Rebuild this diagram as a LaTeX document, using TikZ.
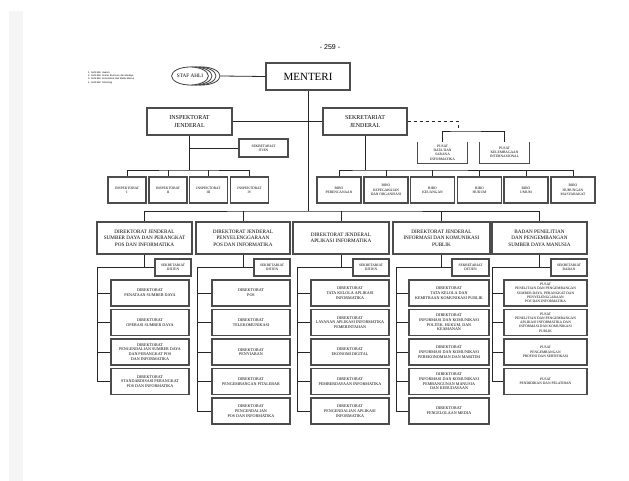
\documentclass[tikz,border=0pt]{standalone}
\usepackage{fontspec}
\setmainfont{Liberation Serif}
\setsansfont{Liberation Sans}
\usetikzlibrary{shapes.geometric}

\newcommand\dirfont{\fontsize{4.1}{4.7}\selectfont}
\newcommand\smallfont{\fontsize{3.6}{4.3}\selectfont}
\newcommand\dgfont{\fontsize{5.2}{6.4}\selectfont}

\begin{document}
\begin{tikzpicture}[x=1pt,y=-1pt,
    unit/.style={draw=black!70,line width=1.1pt,fill=white,inner sep=0pt,align=center},
    dirbox/.style={unit,font=\dirfont,minimum height=26},
    dgbox/.style={unit,font=\dgfont,minimum height=32},
    sekbox/.style={unit,font=\smallfont,minimum width=36,minimum height=17},
    birobox/.style={unit,font=\smallfont,minimum width=44,minimum height=26},
    line/.style={draw=black!85,line width=0.8pt}]
\useasboundingbox (0,0) rectangle (629,481);
\fill[black!4] (9,11) rectangle (23,481);

\node (page) at (330,47) {\sffamily\fontsize{7}{8}\selectfont - 259 -};
\node (list) at (88,77.5) [anchor=west,align=left,inner sep=0pt,font=\sffamily\fontsize{2.4}{3.3}\selectfont]
    {1. Sahli Bid. Hukum\\2. Sahli Bid. Sosial, Ekonomi, dan Budaya\\3. Sahli Bid. Komunikasi dan Media Massa\\4. Sahli Bid. Teknologi};

% staf ahli
\begin{scope}[every node/.style={ellipse,draw=black!75,line width=0.8pt,fill=white,
    minimum width=36,minimum height=18,inner sep=0pt}]
    \node (sa4) at (202,76) {};
    \node (sa3) at (198,76) {};
    \node (sa2) at (194,76) {};
    \node (sa1) at (190,76) [font=\fontsize{5.2}{6}\selectfont] {STAF AHLI};
\end{scope}

\node (menteri) at (308,76.5) [unit,minimum width=84,minimum height=27,font=\fontsize{11}{12}\selectfont] {MENTERI};
\node (itjen) at (189.5,121.5) [unit,minimum width=85,minimum height=27,font=\fontsize{6}{7.5}\selectfont] {INSPEKTORAT\\JENDERAL};
\node (sekjen) at (365,121.5) [unit,minimum width=84,minimum height=27,font=\fontsize{6}{7.5}\selectfont] {SEKRETARIAT\\JENDERAL};
\node (sitjen) at (263.5,148) [sekbox,minimum width=49,minimum height=18] {SEKRETARIAT\\ITJEN};

\path[line] (sa4.east) -- (menteri.west);
\path[line] (itjen.east) -- (sekjen.west);

% inspektorat
\foreach \txt/\x [count=\i] in {I/127,II/168,III/208.5,IV/249.5}
    \node (ins\i) at (\x,190) [birobox,minimum width=38] {INSPEKTORAT\\\txt};
\coordinate (ibus) at (189.5,170);
\path[line] (itjen.south) -- (ibus);
\path[line] (ins1.north) |- (ibus) -| (ins4.north);
\path[line] (ins2.north) -- (ins2.north |- ibus);
\path[line] (ins3.north) -- (ins3.north |- ibus);
\path[line] (sitjen.west) -- (sitjen.west -| itjen.south);

% biro
\foreach \txt/\x [count=\i] in {{BIRO\\PERENCANAAN}/339,{BIRO\\KEPEGAWAIAN\\DAN ORGANISASI}/386,
    {BIRO\\KEUANGAN}/432.5,{BIRO\\HUKUM}/479.5,{BIRO\\UMUM}/526,{BIRO\\HUBUNGAN\\MASYARAKAT}/573}
    \node (biro\i) at (\x,190) [birobox] {\txt};
\coordinate (bbus) at (365,170);
\path[line] (sekjen.south) -- (bbus);
\path[line] (biro1.north) |- (bbus) -| (biro6.north);
\foreach \i in {2,...,5}
    \path[line] (biro\i.north) -- (biro\i.north |- bbus);

% pusat
\node (pd) at (442.5,152.5) [minimum width=49,minimum height=21,inner sep=0pt,align=center,font=\smallfont]
    {PUSAT\\DATA DAN\\SARANA\\INFORMATIKA};
\node (pki) at (504.5,152.5) [minimum width=49,minimum height=21,inner sep=0pt,align=center,font=\smallfont]
    {PUSAT\\KELEMBAGAAN\\INTERNASIONAL};
\path[draw=black!70,line width=1.1pt] (pd.north west) -- (pd.south west) -- (pd.south east) -- (pd.north east);
\path[draw=black!70,line width=1.1pt] (pki.north west) -- (pki.south west) -- (pki.south east) -- (pki.north east);
\coordinate (pbus) at (458,131);
\path[line,dashed] (sekjen.east) -| (pbus);
\path[line] (pd.north) |- (pbus) -| (pki.north);

% direktorat jenderal
\node (dg1) at (144.5,238) [dgbox,minimum width=95] {DIREKTORAT JENDERAL\\SUMBER DAYA DAN PERANGKAT\\POS DAN INFORMATIKA};
\node (dg2) at (243,238) [dgbox,minimum width=94] {DIREKTORAT JENDERAL\\PENYELENGGARAAN\\POS DAN INFORMATIKA};
\node (dg3) at (341,238) [dgbox,minimum width=96] {DIREKTORAT JENDERAL\\APLIKASI INFORMATIKA};
\node (dg4) at (441.5,238) [dgbox,minimum width=97] {DIREKTORAT JENDERAL\\INFORMASI DAN KOMUNIKASI\\PUBLIK};
\node (dg5) at (539.5,238) [dgbox,minimum width=95] {BADAN PENELITIAN\\DAN PENGEMBANGAN\\SUMBER DAYA MANUSIA};

\coordinate (trunk) at (308,211);
\path[line] (menteri.south) -- (trunk);
\path[line] (dg1.north) |- (trunk) -| (dg5.north);
\foreach \i in {2,3,4}
    \path[line] (dg\i.north) -- (dg\i.north |- trunk);

% kolom 1
\node (s1) at (173,267.5) [sekbox] {SEKRETARIAT\\DITJEN};
\foreach \txt [count=\i] in {{DIREKTORAT\\PENATAAN SUMBER DAYA},{DIREKTORAT\\OPERASI SUMBER DAYA},
    {DIREKTORAT\\PENGENDALIAN SUMBER DAYA\\DAN PERANGKAT POS\\DAN INFORMATIKA},
    {DIREKTORAT\\STANDARDISASI PERANGKAT\\POS DAN INFORMATIKA}}
    \node (a\i) at (150,{293+29.5*(\i-1)}) [dirbox,minimum width=78] {\txt};
\coordinate (v1) at (97,267.5);
\path[line] (dg1.south) |- (s1.west);
\path[line] (s1.west) -- (v1) |- (a4.west);
\foreach \i in {1,2,3}
    \path[line] (a\i.west) -- (a\i.west -| v1);

% kolom 2
\node (s2) at (272,267.5) [sekbox] {SEKRETARIAT\\DITJEN};
\foreach \txt [count=\i] in {{DIREKTORAT\\POS},{DIREKTORAT\\TELEKOMUNIKASI},{DIREKTORAT\\PENYIARAN},
    {DIREKTORAT\\PENGEMBANGAN PITALEBAR},{DIREKTORAT\\PENGENDALIAN\\POS DAN INFORMATIKA}}
    \node (b\i) at (251,{293+29.5*(\i-1)}) [dirbox,minimum width=78] {\txt};
\coordinate (v2) at (197,267.5);
\path[line] (dg2.south) |- (s2.west);
\path[line] (s2.west) -- (v2) |- (b5.west);
\foreach \i in {1,...,4}
    \path[line] (b\i.west) -- (b\i.west -| v2);

% kolom 3
\node (s3) at (371,267.5) [sekbox] {SEKRETARIAT\\DITJEN};
\foreach \txt [count=\i] in {{DIREKTORAT\\TATA KELOLA APLIKASI\\INFORMATIKA},
    {DIREKTORAT\\LAYANAN APLIKASI INFORMATIKA\\PEMERINTAHAN},{DIREKTORAT\\EKONOMI DIGITAL},
    {DIREKTORAT\\PEMBERDAYAAN INFORMATIKA},{DIREKTORAT\\PENGENDALIAN APLIKASI\\INFORMATIKA}}
    \node (c\i) at (350,{293+29.5*(\i-1)}) [dirbox,minimum width=78] {\txt};
\coordinate (v3) at (297,267.5);
\path[line] (dg3.south) |- (s3.west);
\path[line] (s3.west) -- (v3) |- (c5.west);
\foreach \i in {1,...,4}
    \path[line] (c\i.west) -- (c\i.west -| v3);

% kolom 4
\node (s4) at (470.5,267.5) [sekbox,minimum width=37] {SEKRETARIAT\\DITJEN};
\foreach \txt [count=\i] in {{DIREKTORAT\\TATA KELOLA DAN\\KEMITRAAN KOMUNIKASI PUBLIK},
    {DIREKTORAT\\INFORMASI DAN KOMUNIKASI\\POLITIK, HUKUM, DAN\\KEAMANAN},
    {DIREKTORAT\\INFORMASI DAN KOMUNIKASI\\PEREKONOMIAN DAN MARITIM},
    {DIREKTORAT\\INFORMASI DAN KOMUNIKASI\\PEMBANGUNAN MANUSIA\\DAN KEBUDAYAAN},
    {DIREKTORAT\\PENGELOLAAN MEDIA}}
    \node (d\i) at (449,{293+29.5*(\i-1)}) [dirbox,minimum width=80] {\txt};
\coordinate (v4) at (396,267.5);
\path[line] (dg4.south) |- (s4.west);
\path[line] (s4.west) -- (v4) |- (d5.west);
\foreach \i in {1,...,4}
    \path[line] (d\i.west) -- (d\i.west -| v4);

% kolom 5
\node (s5) at (569,267.5) [sekbox] {SEKRETARIAT\\BADAN};
\foreach \txt [count=\i] in {{PUSAT\\PENELITIAN DAN PENGEMBANGAN\\SUMBER DAYA, PERANGKAT DAN\\PENYELENGGARAAN\\POS DAN INFORMATIKA},
    {PUSAT\\PENELITIAN DAN PENGEMBANGAN\\APLIKASI INFORMATIKA DAN\\INFORMASI DAN KOMUNIKASI\\PUBLIK},
    {PUSAT\\PENGEMBANGAN\\PROFESI DAN SERTIFIKASI},{PUSAT\\PENDIDIKAN DAN PELATIHAN}}
    \node (e\i) at (545.5,{293+29.5*(\i-1)}) [dirbox,minimum width=83,font=\smallfont] {\txt};
\coordinate (v5) at (492,267.5);
\path[line] (dg5.south) |- (s5.west);
\path[line] (s5.west) -- (v5) |- (e4.west);
\foreach \i in {1,2,3}
    \path[line] (e\i.west) -- (e\i.west -| v5);
\end{tikzpicture}
\end{document}
